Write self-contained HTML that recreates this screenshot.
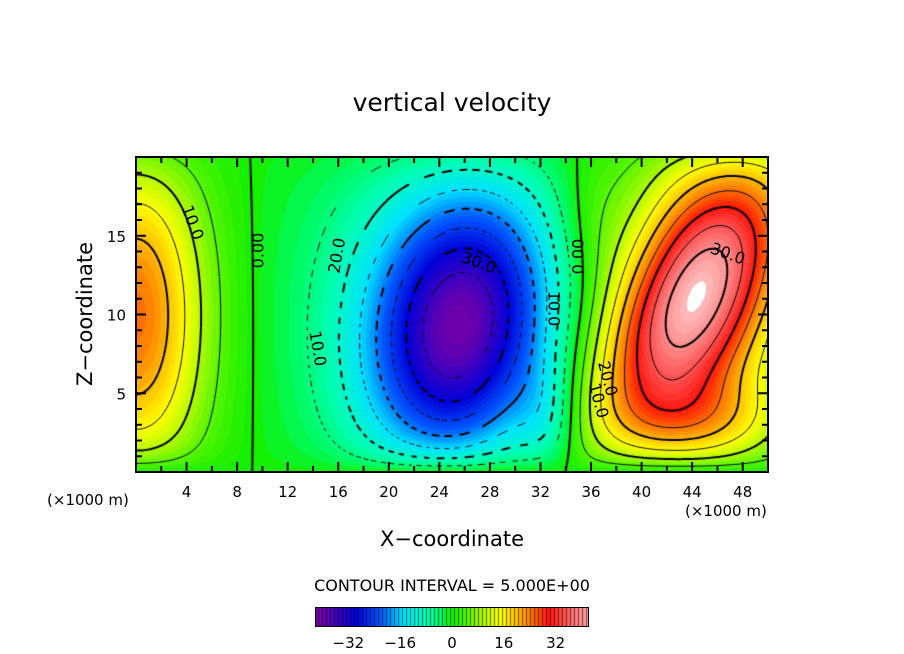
<!DOCTYPE html>
<html><head><meta charset="utf-8"><style>
body{margin:0;background:#fff;}
#wrap{position:relative;width:904px;height:654px;overflow:hidden;font-family:"DejaVu Sans","Liberation Sans",sans-serif;color:#000;}
.t{position:absolute;white-space:nowrap;}
.lbl{position:absolute;font-size:16px;transform-origin:center;white-space:nowrap;}
</style></head><body>
<div id="wrap">
<div class="t" style="left:0;width:904px;text-align:center;top:88px;font-size:25px;">vertical velocity</div>
<canvas id="cv" width="632" height="315" style="position:absolute;left:136px;top:157px;"></canvas>
<svg id="ax" width="904" height="654" style="position:absolute;left:0;top:0;"></svg>
<div class="t" style="left:-5px;top:302px;width:180px;text-align:center;font-size:21px;transform:rotate(-90deg);">Z&#8722;coordinate</div>
<div class="t" style="left:0;width:904px;text-align:center;top:527px;font-size:21px;">X&#8722;coordinate</div>
<div class="t" style="left:47px;top:491px;font-size:15px;">(×1000 m)</div>
<div class="t" style="left:685px;top:502px;font-size:15px;">(×1000 m)</div>
<div class="t" style="left:0;width:904px;text-align:center;top:576px;font-size:16px;">CONTOUR INTERVAL = 5.000E+00</div>
<canvas id="cb" width="272" height="18" style="position:absolute;left:316px;top:608px;"></canvas>
<div id="labels"></div>
</div>
<script>
// field components: Gaussian blobs (km units)
const blobX=[0,25.8,23,44,45,32.5,36,45];
const blobZ=[10,9.2,11,11,10,3,16,3.5];
const blobAmp=[25,-32,-9,31,14,-8,4,6];
const blobSu=[5.5,6.8,10,11,7,2.5,3,7];
const blobSv=[11,9,12,5,30,4,5,2.5];
const blobAng=[0,-20,0,50,0,0,0,0];
const contourLevels=[-35,-30,-25,-20,-15,-10,-5,0,5,10,15,20,25,30,35,40];
const xTicks=[4,8,12,16,20,24,28,32,36,40,44,48];
const zTicks=[5,10,15];
const cbTicks=[-32,-16,0,16,32];
const X0=136,X1=768,Y0=157,Y1=472,XMAX=50,ZMAX=20;
const sx=x=>X0+(x/XMAX)*(X1-X0), sz=z=>Y1-(z/ZMAX)*(Y1-Y0);
function field(x,z){
  let v=0;
  for(let i=0;i<blobX.length;i++){
    const a=blobAng[i]*Math.PI/180,dx=x-blobX[i],dz=z-blobZ[i];
    const u=dx*Math.cos(a)+dz*Math.sin(a),w=-dx*Math.sin(a)+dz*Math.cos(a);
    v+=blobAmp[i]*Math.exp(-(u*u)/(blobSu[i]*blobSu[i])-(w*w)/(blobSv[i]*blobSv[i]));
  }
  const e=(1-Math.exp(-z/1.0))*(1-0.4*Math.exp(-(ZMAX-z)/2));
  return v*e;
}
const stops=[[-42,[130,0,160]],[-38,[90,0,180]],[-34,[40,0,200]],[-30,[0,0,215]],[-22,[0,90,255]],[-15,[0,225,255]],[-8,[0,255,180]],[-3,[0,250,90]],[0,[20,240,0]],[5,[90,245,0]],[10,[180,250,0]],[15,[255,255,0]],[20,[255,190,0]],[25,[255,110,0]],[30,[255,20,10]],[35,[255,80,80]],[40,[255,140,140]],[44,[255,185,185]]];
function col(v){
  if(v>44)return[255,255,255];
  v=Math.round(v/1.25)*1.25;
  if(v<=stops[0][0])return stops[0][1];
  for(let i=1;i<stops.length;i++){if(v<=stops[i][0]){const a=stops[i-1],b=stops[i],t=(v-a[0])/(b[0]-a[0]);return a[1].map((c,k)=>Math.round(c+(b[1][k]-c)*t));}}
  return stops[stops.length-1][1];
}
const cv=document.getElementById('cv'),ctx=cv.getContext('2d');
const W=cv.width,H=cv.height,img=ctx.createImageData(W,H);
for(let j=0;j<H;j++)for(let i=0;i<W;i++){
  const x=(i+0.5)/W*XMAX,z=(1-(j+0.5)/H)*ZMAX,c=col(field(x,z)),p=(j*W+i)*4;
  img.data[p]=c[0];img.data[p+1]=c[1];img.data[p+2]=c[2];img.data[p+3]=255;
}
ctx.putImageData(img,0,0);
// contours via marching squares
const NX=250,NZ=100,g=[];
for(let j=0;j<=NZ;j++){g[j]=[];for(let i=0;i<=NX;i++)g[j][i]=field(i/NX*XMAX,Math.max(0.001,j/NZ*ZMAX));}
const px=i=>i/NX*W,pz=j=>H-j/NZ*H;
ctx.strokeStyle='#000';
contourLevels.forEach(L=>{
  ctx.lineWidth=(L%10===0)?2:1;
  const segs=[];
  for(let j=0;j<NZ;j++)for(let i=0;i<NX;i++){
    const a=g[j][i],b=g[j][i+1],c=g[j+1][i+1],d=g[j+1][i];
    const pts=[];
    const ed=(v1,v2,x1,y1,x2,y2)=>{if((v1-L)*(v2-L)<0){const t=(L-v1)/(v2-v1);pts.push([x1+(x2-x1)*t,y1+(y2-y1)*t]);}};
    ed(a,b,px(i),pz(j),px(i+1),pz(j));ed(b,c,px(i+1),pz(j),px(i+1),pz(j+1));
    ed(c,d,px(i+1),pz(j+1),px(i),pz(j+1));ed(d,a,px(i),pz(j+1),px(i),pz(j));
    for(let k=0;k+1<pts.length;k+=2)segs.push([pts[k],pts[k+1]]);
  }
  ctx.beginPath();
  segs.forEach(s=>{
    if(L<0){const m=(s[0][0]+s[1][0]+s[0][1]+s[1][1])/2;if(Math.floor(m/(L%10===0?7:5))%2)return;}
    ctx.moveTo(s[0][0],s[0][1]);ctx.lineTo(s[1][0],s[1][1]);
  });
  ctx.stroke();
});
// axes
const NS='http://www.w3.org/2000/svg',ax=document.getElementById('ax');
function mk(t,at,name){const e=document.createElementNS(NS,t);for(const k in at)e.setAttribute(k,at[k]);


ax.appendChild(e);return e;}
mk('rect',{x:X0,y:Y0,width:X1-X0,height:Y1-Y0,fill:'none',stroke:'#000','stroke-width':2},'plot-frame');
for(let x=2;x<XMAX;x+=2){const L=(x%4===0)?10:6;
  mk('line',{x1:sx(x),x2:sx(x),y1:Y1,y2:Y1-L,stroke:'#000','stroke-width':2},'x-tick');
  mk('line',{x1:sx(x),x2:sx(x),y1:Y0,y2:Y0+L,stroke:'#000','stroke-width':2},'x-tick-top');}
for(let z=1;z<ZMAX;z++){const L=(z%5===0)?10:6;
  mk('line',{x1:X0,x2:X0+L,y1:sz(z),y2:sz(z),stroke:'#000','stroke-width':2},'z-tick');
  mk('line',{x1:X1,x2:X1-L,y1:sz(z),y2:sz(z),stroke:'#000','stroke-width':2},'z-tick-right');}
xTicks.forEach(x=>{const t=mk('text',{x:sx(x),y:497,'text-anchor':'middle','font-size':15,'font-family':'DejaVu Sans, sans-serif'},'x-tick-label');t.textContent=x;});
zTicks.forEach(z=>{const t=mk('text',{x:126,y:sz(z)+6,'text-anchor':'end','font-size':15,'font-family':'DejaVu Sans, sans-serif'},'z-tick-label');t.textContent=z;});
// colorbar
const cb=document.getElementById('cb'),cc=cb.getContext('2d');
const CBMIN=-42,CBMAX=42;
for(let i=0;i<cb.width;i++){const v=CBMIN+(i+0.5)/cb.width*(CBMAX-CBMIN),c=col(v);cc.fillStyle=`rgb(${c})`;cc.fillRect(i,0,1,18);}
cc.fillStyle='rgba(0,0,0,0.55)';for(let i=2;i<cb.width;i+=4)cc.fillRect(i,0,1,18);
mk('rect',{x:316,y:608,width:272,height:18,fill:'none',stroke:'#000','stroke-width':2},'colorbar-frame');
cbTicks.forEach(v=>{const t=mk('text',{x:316+(v-CBMIN)/(CBMAX-CBMIN)*272,y:648,'text-anchor':'middle','font-size':15,'font-family':'DejaVu Sans, sans-serif'},'colorbar-label');t.textContent=(v<0?'\u2212':'')+Math.abs(v);});
// contour labels
const labs=[["10.0",192,222,70],["0.00",257,250,-90],["20.0",336,255,-80],["10.0",317,348,80],["30.0",478,262,20],["10.0",553,308,90],["0.00",577,256,-90],["30.0",727,253,20],["20.0",607,378,75],["10.0",598,400,75]];
const lb=document.getElementById('labels');
labs.forEach(l=>{const d=document.createElement('div');d.className='lbl';d.textContent=l[0];


d.style.left=(l[1]-17)+'px';d.style.top=(l[2]-9)+'px';d.style.transform='rotate('+l[3]+'deg)';lb.appendChild(d);});
</script>
</body></html>
